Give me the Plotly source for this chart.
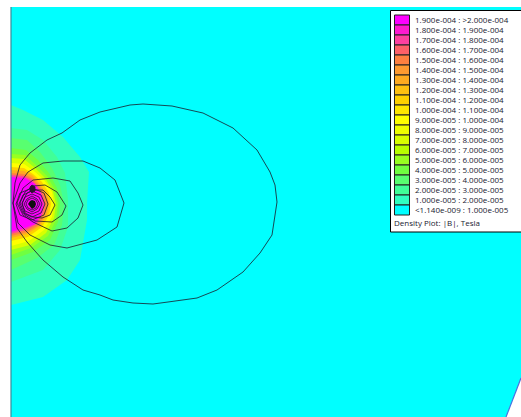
import plotly.graph_objects as go

legend_labels = ["1.900e-004 : >2.000e-004","1.800e-004 : 1.900e-004","1.700e-004 : 1.800e-004",
"1.600e-004 : 1.700e-004","1.500e-004 : 1.600e-004","1.400e-004 : 1.500e-004","1.300e-004 : 1.400e-004",
"1.200e-004 : 1.300e-004","1.100e-004 : 1.200e-004","1.000e-004 : 1.100e-004","9.000e-005 : 1.000e-004",
"8.000e-005 : 9.000e-005","7.000e-005 : 8.000e-005","6.000e-005 : 7.000e-005","5.000e-005 : 6.000e-005",
"4.000e-005 : 5.000e-005","3.000e-005 : 4.000e-005","2.000e-005 : 3.000e-005","1.000e-005 : 2.000e-005",
"<1.140e-009 : 1.000e-005"]
legend_colors = ["#ff00ff","#ff1ad0","#ff40a0","#ff6068","#ff8040","#ff9a30","#ffaa20","#ffc010","#ffd000","#ffe600",
"#ffff00","#eeff00","#d8ff00","#b8ff00","#98ff20","#70ff40","#58ff70","#40ff98","#30ffc0","#00ffff"]

domain_x = [11,521,521,506,11]
domain_y = [7,7,378,417,417]

band_1x=[11,23,43,63,80,89,87,87,80,67,43,11]
band_1y=[105,110,120,137,157,172,203,220,260,280,297,305]
band_2x=[11,27,43,57,65,68,68,60,43,11]
band_2y=[128,130,140,157,173,200,227,250,270,282]
band_3x=[11,27,40,52,60,64,62,54,37,11]
band_3y=[138,140,152,168,185,204,225,245,258,270]
band_4x=[11,26,38,49,57,60,58,50,33,11]
band_4y=[148,150,160,173,188,204,222,240,252,260]
band_5x=[11,25,36,47,55,58,56,48,31,11]
band_5y=[154,155,165,176,190,204,220,236,248,255]
band_6x=[11,24,35,45,53,56,54,46,30,11]
band_6y=[158,159,168,178,191,204,218,233,245,250]
band_7x=[11,24,34,44,52,54,52,44,29,11]
band_7y=[163,164,171,180,192,204,217,230,241,246]
band_8x=[11,24,33,42,49,51,49,42,28,11]
band_8y=[167,168,174,182,193,204,215,227,237,241]
band_9x=[11,24,33,40,47,49,47,40,27,11]
band_9y=[170,171,176,184,194,204,214,226,234,238]
band_10x=[11,24,32,39,45,47,45,39,27,11]
band_10y=[173,174,178,185,195,204,213,225,232,236]
band_11x=[11,24,32,38,43,45,43,37,26,11]
band_11y=[175,176,180,187,196,205,213,224,230,234]
band_12x=[11,25,35,41,43,41,35,25,11]
band_12y=[177,178,184,194,205,215,224,228,232]
bands = [(18,band_1x,band_1y),(17,band_2x,band_2y),(16,band_3x,band_3y),(15,band_4x,band_4y),
         (14,band_5x,band_5y),(12,band_6x,band_6y),(10,band_7x,band_7y),(8,band_8x,band_8y),
         (6,band_9x,band_9y),(4,band_10x,band_10y),(2,band_11x,band_11y),(0,band_12x,band_12y)]

c1x=[13,15,20,30,47,62,80,100,130,143,172,203,233,257,270,275,277,272,260,243,217,197,168,153,133,113,100,83,63,43,27,17,13]
c1y=[203,183,165,153,140,133,120,112,105,104,106,113,128,150,172,185,202,235,253,272,290,298,302,304,303,300,295,290,277,260,242,228,203]
c2x=[13,20,28,43,63,83,100,115,124,117,97,67,50,30,18,13]
c2y=[203,183,172,163,161,161,168,180,203,227,240,248,245,235,223,203]
c3x=[17,23,33,53,70,78,83,78,67,52,33,23,17]
c3y=[203,188,180,178,181,193,205,218,228,231,222,215,203]
c4x=[20,25,33,45,57,66,62,52,35,25,20]
c4y=[203,192,186,185,192,206,215,222,221,215,203]
c5x=[22,27,33,43,50,55,50,42,33,25,22]
c5y=[203,193,190,190,197,205,215,218,217,213,203]
c6x=[16,20,32,44,48,44,32,20,16]
c6y=[204,193,188,193,204,215,220,215,204]
c7x=[19,23,32,41,45,41,32,23,19]
c7y=[204,195,191,195,204,213,217,213,204]
c8x=[22,25,32,39,42,39,32,25,22]
c8y=[204,197,194,197,204,211,214,211,204]
c9x=[24,27,32,37,40,37,32,27,24]
c9y=[204,199,196,199,204,209,212,209,204]
c10x=[26,28,32,36,38,36,32,28,26]
c10y=[204,200,198,200,204,208,210,208,204]
blob_x=[30,32,35,35,32,30,30]
blob_y=[187,185,187,191,193,191,187]
core_x=[28,30,32,35,36,35,32,30,28]
core_y=[204,201,200,201,204,207,209,207,204]
contours=[(c1x,c1y),(c2x,c2y),(c3x,c3y),(c4x,c4y),(c5x,c5y),(c6x,c6y),(c7x,c7y),(c8x,c8y),(c9x,c9y),(c10x,c10y),(blob_x,blob_y)]

fig = go.Figure()
def poly(x,y,fill):
    fig.add_trace(go.Scatter(x=x,y=y,mode="lines",fill="toself",fillcolor=fill,
        line=dict(color=fill,width=0),hoverinfo="skip",showlegend=False))

poly(domain_x,domain_y,"#00ffff")
for idx,x,y in bands:
    poly(x,y,legend_colors[idx])
for x,y in contours:
    fig.add_trace(go.Scatter(x=x,y=y,mode="lines",line=dict(color="#1a1a2a",width=0.8),hoverinfo="skip",showlegend=False))
poly(core_x,core_y,"#101010")
poly(blob_x,blob_y,"#301030")

fig.add_trace(go.Scatter(x=[11,11],y=[7,417],mode="lines",line=dict(color="#3a8a9a",width=1.2),hoverinfo="skip",showlegend=False))
fig.add_trace(go.Scatter(x=[521,506],y=[378,417],mode="lines",line=dict(color="#4a70e0",width=1.2),hoverinfo="skip",showlegend=False))

shapes=[dict(type="rect",x0=390.5,x1=523,y0=10.5,y1=232,fillcolor="white",line=dict(color="black",width=1),layer="above")]
annos=[]
for i,(lab,col) in enumerate(zip(legend_labels,legend_colors)):
    shapes.append(dict(type="rect",x0=394.5,x1=409.5,y0=15+10*i,y1=25+10*i,fillcolor=col,line=dict(color="#202020",width=1),layer="above"))
    annos.append(dict(x=412.5,y=19.5+10*i,text=lab,showarrow=False,xanchor="left",yanchor="middle",
        font=dict(family="Open Sans",size=8,color="#202030"),xref="x",yref="y"))
annos.append(dict(x=392,y=222.5,text="Density Plot: |B|, Tesla",showarrow=False,xanchor="left",yanchor="middle",
    font=dict(family="Open Sans",size=8,color="#202030"),xref="x",yref="y"))

fig.update_layout(width=521,height=417,margin=dict(l=0,r=0,t=0,b=0),paper_bgcolor="white",plot_bgcolor="white",
    xaxis=dict(range=[0,521],visible=False,fixedrange=True),
    yaxis=dict(range=[417,0],visible=False,fixedrange=True),
    shapes=shapes,annotations=annos,showlegend=False)
fig.write_html("out.html",config={"displayModeBar":False},
    post_script="document.body.style.margin='0';document.documentElement.style.overflow='hidden';")
